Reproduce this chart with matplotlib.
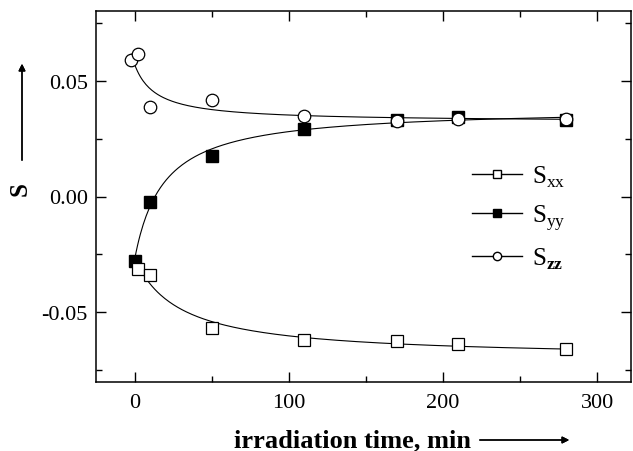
import matplotlib
matplotlib.use("Agg")
import matplotlib.pyplot as plt
import numpy as np
from matplotlib.lines import Line2D

plt.rcParams["font.family"] = "Liberation Serif"
plt.rcParams["mathtext.fontset"] = "custom"
plt.rcParams["mathtext.rm"] = "Liberation Serif"
plt.rcParams["mathtext.bf"] = "Liberation Serif:bold"

# ── data ──────────────────────────────────────────────────────────────────────
t_xx = [2, 10, 50, 110, 170, 210, 280]
s_xx = [-0.0312, -0.0340, -0.0566, -0.0619, -0.0625, -0.0638, -0.0656]

t_yy = [0, 10, 50, 110, 170, 210, 280]
s_yy = [-0.0279, -0.0025, 0.0175, 0.0289, 0.0330, 0.0343, 0.0332]

t_zz = [-2, 2, 10, 50, 110, 170, 210, 280]
s_zz = [0.0590, 0.0613, 0.0387, 0.0418, 0.0348, 0.0327, 0.0334, 0.0334]


def hyp_fit(t, s):
    """Least-squares fit of s = a + b/(1 + (t - t0)/tau), tau by grid search."""
    t = np.asarray(t, float)
    s = np.asarray(s, float)
    t0 = t.min()
    best = None
    for tau in np.linspace(3, 200, 800):
        A = np.column_stack([np.ones_like(t), 1 / (1 + (t - t0) / tau)])
        coef, *_ = np.linalg.lstsq(A, s, rcond=None)
        err = np.sum((A @ coef - s) ** 2)
        if best is None or err < best[0]:
            best = (err, tau, coef)
    _, tau, (a, b) = best
    tt = np.linspace(t0, t.max(), 300)
    return tt, a + b / (1 + (tt - t0) / tau)


fig = plt.figure(figsize=(6.33, 4.52), dpi=100)
ax = fig.add_axes([96 / 633, 69 / 452, 535 / 633, 371 / 452])

for t, s in [(t_yy, s_yy), (t_zz, s_zz), (t_xx, s_xx)]:
    tt, ss = hyp_fit(t, s)
    ax.plot(tt, ss, color="k", lw=0.8, zorder=2)

ax.plot(t_yy, s_yy, "s", ms=9, mfc="k", mec="k", mew=1, ls="none", zorder=3)
ax.plot(t_zz, s_zz, "o", ms=9, mfc="white", mec="k", mew=0.9, ls="none", zorder=4)
ax.plot(t_xx, s_xx, "s", ms=9, mfc="white", mec="k", mew=0.9, ls="none", zorder=5)

ax.set_xlim(-25, 322)
ax.set_ylim(-0.08, 0.08)
ax.set_xticks([0, 100, 200, 300])
ax.set_xticks([50, 150, 250], minor=True)
ax.set_yticks([-0.05, 0.00, 0.05])
ax.set_yticklabels(["-0.05", "0.00", "0.05"])
ax.set_yticks([-0.075, -0.025, 0.025, 0.075], minor=True)
ax.tick_params(which="both", direction="in", top=True, right=True,
               labelsize=16, width=1)
ax.tick_params(which="major", length=7)
ax.tick_params(axis="y", which="major", pad=6)
ax.tick_params(axis="x", which="major", pad=8)
ax.tick_params(which="minor", length=4)
for sp in ax.spines.values():
    sp.set_linewidth(1.1)

handles = [
    Line2D([], [], color="k", lw=1, marker="s", ms=6, mfc="white", mec="k"),
    Line2D([], [], color="k", lw=1, marker="s", ms=6, mfc="k", mec="k"),
    Line2D([], [], color="k", lw=1, marker="o", ms=6, mfc="white", mec="k"),
]
labels = [r"S$_{\rm xx}$", r"S$_{\rm yy}$", r"S$_{\mathbf{zz}}$"]
ax.legend(handles, labels, loc="upper left", bbox_to_anchor=(0.66, 0.65),
          frameon=False, fontsize=18, handlelength=2.0, handletextpad=0.4,
          labelspacing=0.55)

# axis labels with arrows
fig.text(352 / 633, 1 - 441 / 452, "irradiation time, min", fontsize=19,
         fontweight="bold", ha="center", va="center")
fig.add_artist(plt.annotate("", xy=(572 / 633, 1 - 441 / 452),
                            xytext=(477 / 633, 1 - 441 / 452),
                            xycoords="figure fraction",
                            arrowprops=dict(arrowstyle="-|>", color="k",
                                            lw=1, mutation_scale=10)))
fig.text(20 / 633, 1 - 189 / 452, "S", fontsize=18, fontweight="bold",
         rotation=90, ha="center", va="center")
fig.add_artist(plt.annotate("", xy=(22 / 633, 1 - 62 / 452),
                            xytext=(22 / 633, 1 - 164 / 452),
                            xycoords="figure fraction",
                            arrowprops=dict(arrowstyle="-|>", color="k",
                                            lw=1, mutation_scale=10)))

fig.savefig("out.png", dpi=100)
